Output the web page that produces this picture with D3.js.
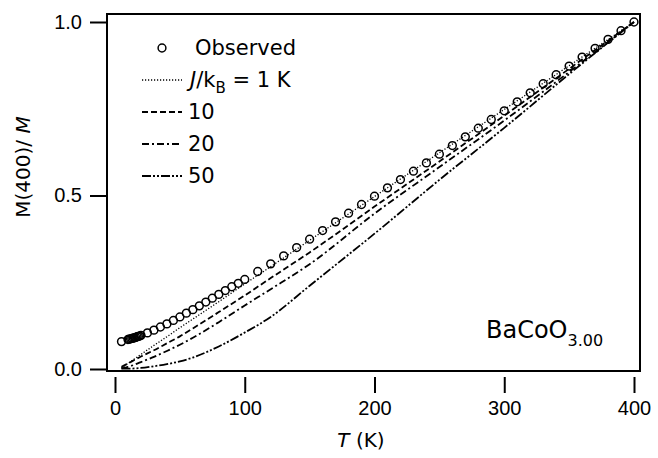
<!DOCTYPE html>
<html>
<head>
<meta charset="utf-8">
<script src="https://cdn.jsdelivr.net/npm/d3@7"></script>
<style>
  body { margin: 0; background: #fff; }
  svg { font-family: "DejaVu Sans", Arial, Helvetica, sans-serif; }
</style>
</head>
<body>
<svg width="658" height="458"></svg>
<script>
// observed points (T in K, M(400)/M)
var obsT = [5, 10, 11, 12, 13, 14, 15, 16, 17, 18, 19, 20,
            25, 30, 35, 40, 45, 50, 55, 60, 65, 70, 75, 80, 85, 90, 95, 100,
            110, 120, 130, 140, 150, 160, 170, 180, 190, 200, 210, 220, 230, 240, 250,
            260, 270, 280, 290, 300, 310, 320, 330, 340, 350, 360, 370, 380, 390, 400];
var obsM = [0.079, 0.085, 0.086, 0.087, 0.088, 0.089, 0.090, 0.091, 0.093, 0.094, 0.095, 0.097,
            0.104, 0.112, 0.121, 0.130, 0.140, 0.150, 0.161, 0.171, 0.182, 0.193, 0.204, 0.215, 0.226, 0.237, 0.247, 0.258,
            0.281, 0.303, 0.326, 0.350, 0.374, 0.399, 0.424, 0.449, 0.474, 0.498, 0.522, 0.546, 0.570, 0.594, 0.619,
            0.644, 0.669, 0.694, 0.719, 0.744, 0.770, 0.796, 0.822, 0.848, 0.873, 0.899, 0.924, 0.950, 0.975, 1.000];

// calculated curves for J/kB = 1, 10, 20, 50 K
var calcT = [5, 10, 20, 30, 40, 50, 60, 80, 100, 120, 150, 200, 250, 300, 350, 400];
var calcJ1  = [0.003, 0.016, 0.042, 0.068, 0.093, 0.119, 0.144, 0.194, 0.245, 0.295, 0.371, 0.497, 0.623, 0.748, 0.874, 1.0];
var calcJ10 = [0.006, 0.016, 0.036, 0.054, 0.074, 0.094, 0.117, 0.164, 0.212, 0.262, 0.336, 0.468, 0.598, 0.730, 0.865, 1.0];
var calcJ20 = [0.002, 0.006, 0.020, 0.035, 0.052, 0.070, 0.090, 0.135, 0.183, 0.230, 0.302, 0.448, 0.582, 0.716, 0.856, 1.0];
var calcJ50 = [0.001, 0.001, 0.003, 0.008, 0.014, 0.022, 0.033, 0.065, 0.105, 0.150, 0.240, 0.390, 0.545, 0.695, 0.850, 1.0];

var xTicks = [0, 100, 200, 300, 400];
var yTicks = [0.0, 0.5, 1.0];
var legendLabels = ["10", "20", "50"];

var dashes = ["1.2,1.8", "6,3", "7,3,2,3", "9,2,2,2,2,2"];
var widths = [1.3, 1.8, 1.8, 1.8];

var svg = d3.select("svg");

var x = d3.scaleLinear().domain([0, 400]).range([115, 634]);
var y = d3.scaleLinear().domain([0, 1]).range([369, 22]);

var box = {left: 107, right: 640, top: 14, bottom: 371};

// frame
svg.append("rect")
  .attr("x", box.left).attr("y", box.top)
  .attr("width", box.right - box.left).attr("height", box.bottom - box.top)
  .attr("fill", "none").attr("stroke", "#000").attr("stroke-width", 2);

// y axis ticks + labels
var yAxis = d3.axisLeft(y).tickValues(yTicks).tickSize(17).tickPadding(8)
  .tickFormat(d3.format(".1f"));
svg.append("g")
  .attr("transform", "translate(" + box.left + ",0)")
  .call(yAxis)
  .call(function(g) { g.select(".domain").remove(); })
  .call(function(g) {
    g.selectAll("line").attr("stroke-width", 2);
    g.selectAll("text").attr("font-size", 20).attr("font-family", null).attr("fill", "#000");
  });

// x axis: ticks hang below the frame
var xAxis = d3.axisBottom(x).tickValues(xTicks).tickSize(16).tickPadding(8)
  .tickFormat(d3.format("d"));
svg.append("g")
  .attr("transform", "translate(0,377)")
  .call(xAxis)
  .call(function(g) { g.select(".domain").remove(); })
  .call(function(g) {
    g.selectAll("line").attr("stroke-width", 2);
    g.selectAll("text").attr("font-size", 20).attr("font-family", null).attr("fill", "#000");
  });

// axis titles
var xt = svg.append("text")
  .attr("x", 361).attr("y", 447)
  .attr("text-anchor", "middle").attr("font-size", 20).attr("fill", "#000");
xt.append("tspan").attr("font-style", "italic").text("T");
xt.append("tspan").text(" (K)");

var yt = svg.append("text")
  .attr("transform", "translate(30,167) rotate(-90)")
  .attr("text-anchor", "middle").attr("font-size", 20).attr("fill", "#000");
yt.append("tspan").text("M(400)/ ");
yt.append("tspan").attr("font-style", "italic").text("M");

// model curves
var line = d3.line()
  .x(function(d) { return x(d[0]); })
  .y(function(d) { return y(d[1]); })
  .curve(d3.curveMonotoneX);

var curves = [calcJ1, calcJ10, calcJ20, calcJ50];
for (var i = 0; i < curves.length; ++i) {
  var pts = calcT.map(function(t, k) { return [t, curves[i][k]]; });
  svg.append("path")
    .datum(pts)
    .attr("d", line)
    .attr("fill", "none")
    .attr("stroke", "#000")
    .attr("stroke-width", widths[i])
    .attr("stroke-dasharray", dashes[i]);
}

// observed circles
svg.selectAll("circle.obs")
  .data(obsT.map(function(t, k) { return [t, obsM[k]]; }))
  .enter().append("circle")
  .attr("class", "obs")
  .attr("cx", function(d) { return x(d[0]); })
  .attr("cy", function(d) { return y(d[1]); })
  .attr("r", 3.9)
  .attr("fill", "none")
  .attr("stroke", "#000")
  .attr("stroke-width", 1.5);

// legend
var leg = svg.append("g");
leg.append("circle").attr("cx", 162).attr("cy", 48).attr("r", 3.9)
  .attr("fill", "none").attr("stroke", "#000").attr("stroke-width", 1.5);
leg.append("text").attr("x", 195).attr("y", 55).attr("font-size", 21).attr("fill", "#000").text("Observed");

var rowY = [80, 112, 144, 176];
for (var j = 0; j < 4; ++j) {
  leg.append("line")
    .attr("x1", 142).attr("x2", 182).attr("y1", rowY[j]).attr("y2", rowY[j])
    .attr("stroke", "#000").attr("stroke-width", widths[j])
    .attr("stroke-dasharray", dashes[j]);
}
var jt = leg.append("text").attr("x", 190).attr("y", rowY[0] + 7).attr("font-size", 21).attr("fill", "#000");
jt.append("tspan").attr("font-style", "italic").text("J");
jt.append("tspan").text("/k");
jt.append("tspan").attr("font-size", 15).attr("dy", 6).text("B");
jt.append("tspan").attr("dy", -6).text(" =  1 K");
for (var j = 1; j < 4; ++j) {
  leg.append("text").attr("x", 188).attr("y", rowY[j] + 7)
    .attr("font-size", 21).attr("fill", "#000").text(legendLabels[j - 1]);
}

// compound label
var cl = svg.append("text").attr("x", 486).attr("y", 338).attr("font-size", 24).attr("fill", "#000");
cl.append("tspan").text("BaCoO");
cl.append("tspan").attr("font-size", 16).attr("dy", 8).text("3.00");
</script>
</body>
</html>
